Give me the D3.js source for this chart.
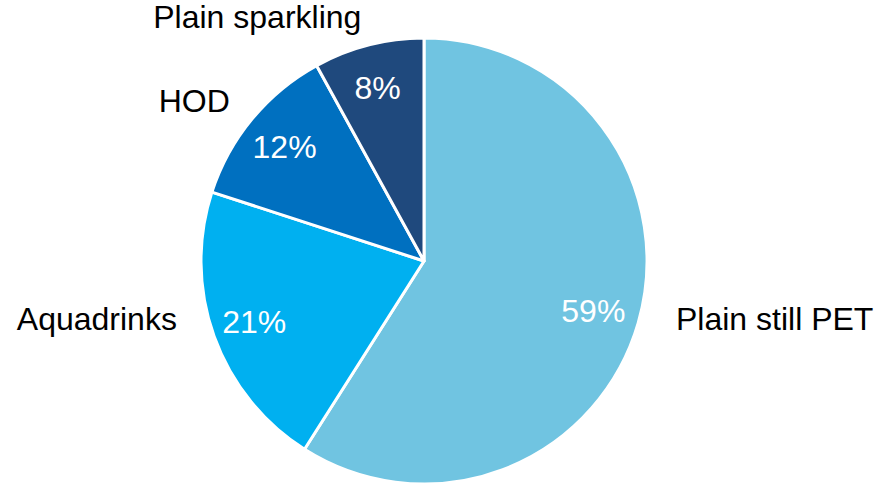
<!DOCTYPE html>
<html>
<head>
<meta charset="utf-8">
<script src="https://cdn.jsdelivr.net/npm/d3@7"></script>
<style>
  html, body { margin: 0; padding: 0; background: #fff; }
  svg { display: block; }
  text { font-family: "Liberation Sans", Arial, sans-serif; }
</style>
</head>
<body>
<svg id="chart" width="874" height="485"></svg>
<script>
// Market share by segment (%)
const categories = ["Plain still PET", "Aquadrinks", "HOD", "Plain sparkling"];
const shares = [59, 21, 12, 8];
const colors = ["#70C4E1", "#00B0F0", "#0070C0", "#1F497D"];

const width = 874, height = 485;
const cx = 424, cy = 261, radius = 223;
const fontSize = 32;

const svg = d3.select("#chart");
const g = svg.append("g").attr("transform", `translate(${cx},${cy})`);

const data = categories.map((c, i) => ({ name: c, value: shares[i], color: colors[i] }));

const pie = d3.pie().value(d => d.value).sort(null);
const arcs = pie(data);

const arc = d3.arc().innerRadius(0).outerRadius(radius);
const innerLabelArc = d3.arc().innerRadius(radius * 0.8).outerRadius(radius * 0.8);

g.selectAll("path.slice")
  .data(arcs)
  .join("path")
  .attr("class", "slice")
  .attr("d", arc)
  .attr("fill", d => d.data.color)
  .attr("stroke", "#fff")
  .attr("stroke-width", 3)
  .attr("stroke-linejoin", "round");

// Percentage labels inside each slice
g.selectAll("text.pct")
  .data(arcs)
  .join("text")
  .attr("class", "pct")
  .attr("x", d => innerLabelArc.centroid(d)[0] - 2)
  .attr("y", d => innerLabelArc.centroid(d)[1])
  .attr("dy", "0.35em")
  .attr("text-anchor", "middle")
  .attr("font-size", fontSize)
  .attr("fill", "#fff")
  .text(d => d.value + "%");

// Category labels outside the pie
const outerR = radius + 29;
g.selectAll("text.cat")
  .data(arcs)
  .join("text")
  .attr("class", "cat")
  .each(function (d) {
    const a = (d.startAngle + d.endAngle) / 2;
    const sx = Math.sin(a), cyv = -Math.cos(a);
    const x = outerR * sx;
    let y = outerR * cyv;
    // labels near the horizontal are pulled toward the pie's middle band
    if (Math.abs(sx) > 0.9) y = Math.sign(y) * Math.min(Math.abs(y), 58);
    const pad = Math.abs(sx) > 0.9 ? 10 : 0;
    d3.select(this)
      .attr("x", sx >= 0 ? x + pad : x - pad)
      .attr("y", y)
      .attr("text-anchor", sx >= 0 ? "start" : "end");
  })
  .attr("dy", "0.35em")
  .attr("font-size", fontSize)
  .attr("fill", "#000")
  .text(d => d.data.name);
</script>
</body>
</html>
